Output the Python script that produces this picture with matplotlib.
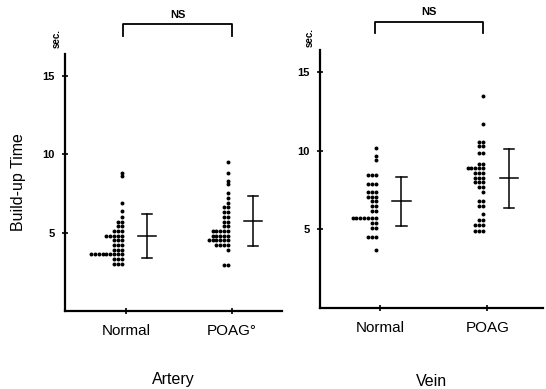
import numpy as np
import matplotlib.pyplot as plt

plt.rcParams['font.family'] = ['Liberation Sans', 'DejaVu Sans']

groups = ['Normal', 'POAG']

# Artery build-up time (sec): distinct values and number of eyes at each
art_norm_vals = [8.8, 8.6, 6.9, 6.4, 6.0, 5.7, 5.4, 5.1, 4.8, 4.5, 4.2, 3.9, 3.6, 3.3, 3.0]
art_norm_counts = [1, 1, 1, 1, 1, 2, 2, 3, 5, 3, 3, 3, 9, 3, 3]
art_poag_vals = [9.5, 8.8, 8.3, 8.1, 7.5, 7.2, 6.9, 6.6, 6.3, 6.0, 5.7, 5.4, 5.1, 4.8, 4.5, 4.2, 3.9, 2.9]
art_poag_counts = [1, 1, 1, 1, 1, 1, 1, 2, 2, 2, 2, 2, 5, 5, 6, 4, 1, 2]

# Vein build-up time (sec)
vein_norm_vals = [10.2, 9.7, 9.4, 8.5, 7.9, 7.4, 7.1, 6.8, 6.5, 6.2, 5.7, 5.4, 5.1, 4.5, 3.7]
vein_norm_counts = [1, 1, 1, 3, 3, 3, 3, 2, 2, 2, 7, 2, 2, 3, 1]
vein_poag_vals = [13.5, 11.7, 10.6, 10.3, 9.9, 9.2, 8.9, 8.6, 8.3, 8.0, 7.7, 7.4, 6.8, 6.5, 6.0, 5.6, 5.3, 4.9]
vein_poag_counts = [1, 1, 2, 2, 2, 2, 5, 3, 3, 3, 2, 1, 2, 2, 1, 2, 3, 3]

# mean and SD for each group
art_mean = [4.75, 5.75]
art_sd = [1.4, 1.6]
vein_mean = [6.8, 8.25]
vein_sd = [1.55, 1.9]


def dot_column(ax, xc, vals, counts, dx=0.036):
    # equal values spread out to the left of the column
    for v, n in zip(vals, counts):
        xs = xc - 0.04 - dx * np.arange(n)
        ax.scatter(xs, np.full(n, v), s=8, color='black', linewidths=0, zorder=3)


def mean_sd(ax, xc, m, sd):
    xb = xc + 0.2
    ax.plot([xb, xb], [m - sd, m + sd], color='black', lw=1.1)
    for y in (m - sd, m + sd):
        ax.plot([xb - 0.047, xb + 0.047], [y, y], color='black', lw=1.1)
    ax.plot([xb - 0.085, xb + 0.085], [m, m], color='black', lw=1.1)


def ns_bracket(ax, x0, x1, y, ylo):
    ax.plot([x0, x0, x1, x1], [ylo, y, y, ylo], color='black', lw=1.3, clip_on=False)
    ax.text((x0 + x1) / 2, y + 0.3, 'NS', ha='center', va='bottom', fontsize=8,
            fontweight='bold')


def style(ax, xlim, ylim):
    ax.set_xlim(*xlim)
    ax.set_ylim(*ylim)
    for s in ('top', 'right'):
        ax.spines[s].set_visible(False)
    for s in ('left', 'bottom'):
        ax.spines[s].set_linewidth(1.6)
    ax.set_yticks([5, 10, 15])
    ax.set_yticklabels(['5', '10', '15'], fontsize=8, fontweight='bold')
    ax.set_xticks([0, 1])
    ax.set_xticklabels(groups, fontsize=11)
    ax.tick_params(axis='y', direction='inout', length=5, width=1.2, pad=5)
    ax.tick_params(axis='x', direction='inout', length=5, width=1.2, pad=7)


fig = plt.figure(figsize=(5.46, 3.89), dpi=100)

ax1 = fig.add_axes([65 / 546, 1 - 311 / 389, 217 / 546, 257 / 389])
style(ax1, (-0.575, 1.47), (0, 16.37))
dot_column(ax1, 0, art_norm_vals, art_norm_counts)
dot_column(ax1, 1, art_poag_vals, art_poag_counts)
for i in range(2):
    mean_sd(ax1, i, art_mean[i], art_sd[i])
ax1.set_xticklabels(['Normal', 'POAG°'])
ns_bracket(ax1, -0.03, 1.0, 18.25, 17.5)
ax1.text(-0.65, 17.35, 'sec.', rotation=90, ha='center', va='center', fontsize=7,
         fontweight='bold', clip_on=False)
ax1.set_ylabel('Build-up Time', fontsize=11.5, labelpad=12)
ax1.set_xlabel('Artery', fontsize=11.5, labelpad=24)

ax2 = fig.add_axes([320 / 546, 1 - 308 / 389, 223 / 546, 258 / 389])
style(ax2, (-0.56, 1.52), (0, 16.43))
dot_column(ax2, 0, vein_norm_vals, vein_norm_counts)
dot_column(ax2, 1, vein_poag_vals, vein_poag_counts)
for i in range(2):
    mean_sd(ax2, i, vein_mean[i], vein_sd[i])
ns_bracket(ax2, -0.05, 0.96, 18.2, 17.5)
ax2.text(-0.66, 17.2, 'sec.', rotation=90, ha='center', va='center', fontsize=7,
         fontweight='bold', clip_on=False)
ax2.set_xlabel('Vein', fontsize=11.5, labelpad=28)

fig.savefig('out.png', dpi=100)
